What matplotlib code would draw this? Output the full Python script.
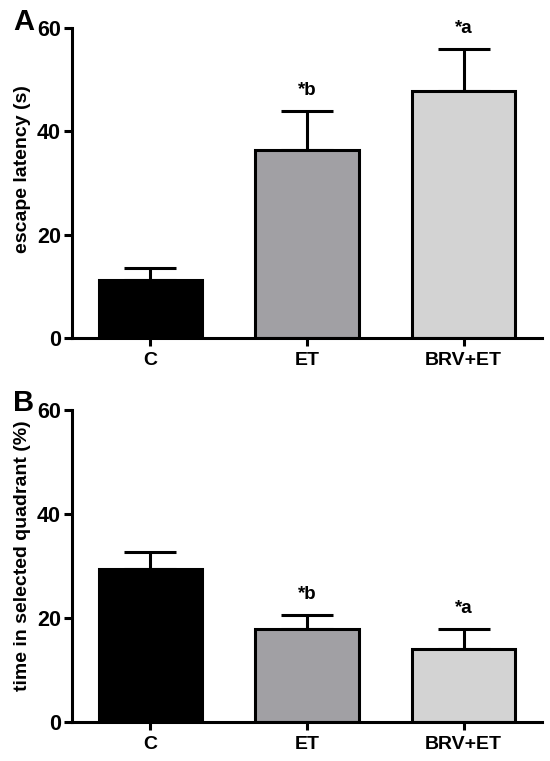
import matplotlib
matplotlib.use("Agg")
import matplotlib.pyplot as plt

plt.rcParams['font.family'] = ['Liberation Sans', 'DejaVu Sans']
plt.rcParams['font.weight'] = 'bold'

categories = ["C", "ET", "BRV+ET"]
colors = ["#000000", "#a1a0a4", "#d3d3d3"]

escape_mean = [11.2, 36.3, 47.8]
escape_err = [2.3, 7.7, 8.2]
escape_marks = ["", "*b", "*a"]

quadrant_mean = [29.4, 17.8, 14.1]
quadrant_err = [3.3, 2.8, 3.8]
quadrant_marks = ["", "*b", "*a"]

yticks = [0, 20, 40, 60]

fig = plt.figure(figsize=(5.5, 7.61), dpi=100)
axA = fig.add_axes([72/550, (761-338)/761, 470/550, 310/761])
axB = fig.add_axes([72/550, (761-722)/761, 470/550, 312/761])

def draw(ax, means, errs, marks, ylabel, letter, ly, label_y):
    x = list(range(len(categories)))
    ax.errorbar(x, means, yerr=[[0]*len(errs), errs], fmt='none', ecolor='black',
                elinewidth=2.2, capsize=19, capthick=2.2, zorder=1)
    ax.bar(x, means, width=0.66, color=colors, edgecolor='black', linewidth=2.2, zorder=2)
    for xi, m, e, t in zip(x, means, errs, marks):
        if t:
            ax.text(xi, m + e + 2.2, t, ha='center', va='bottom', fontsize=13.5,
                    fontweight='bold', clip_on=False)
    ax.set_xlim(-0.5, 2.5)
    ax.set_ylim(0, 60)
    ax.set_yticks(yticks)
    ax.set_xticks(x)
    ax.set_xticklabels(categories, fontsize=14, fontweight='bold')
    ax.tick_params(axis='y', labelsize=15.5, width=2.2, length=6, direction='out', pad=2)
    ax.tick_params(axis='x', width=2.2, length=6, direction='out', pad=4)
    for lab in ax.get_yticklabels():
        lab.set_fontweight('bold')
    ax.spines['top'].set_visible(False)
    ax.spines['right'].set_visible(False)
    ax.spines['left'].set_linewidth(2.2)
    ax.spines['bottom'].set_linewidth(2.2)
    ax.set_ylabel(ylabel, fontsize=14, fontweight='bold')
    ax.yaxis.set_label_coords(-0.088, label_y)
    ax.text(-0.081, ly, letter, transform=ax.transAxes, fontsize=21,
            fontweight='bold', ha='right', va='center')

draw(axA, escape_mean, escape_err, escape_marks, "escape latency (s)", "A", 1.019, 0.545)
draw(axB, quadrant_mean, quadrant_err, quadrant_marks, "time in selected quadrant (%)", "B", 1.024, 0.532)

fig.savefig("out.png", dpi=100)
